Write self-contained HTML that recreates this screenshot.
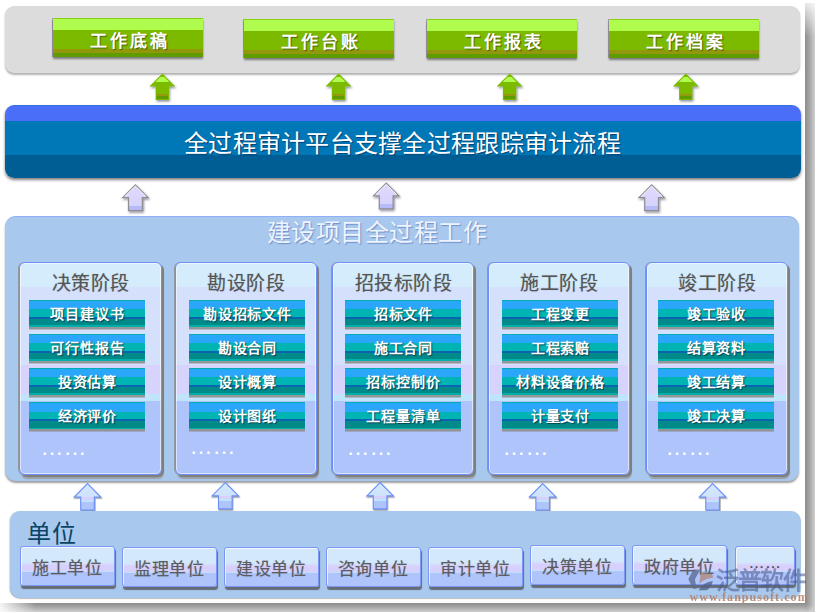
<!DOCTYPE html>
<html lang="zh-CN">
<head>
<meta charset="utf-8">
<title>全过程审计平台</title>
<style>
html,body{margin:0;padding:0;background:#fff;}
body{width:818px;height:613px;position:relative;overflow:hidden;font-family:"Liberation Sans",sans-serif;}
.abs{position:absolute;}
/* page shadows */
#shR{left:805px;top:3px;width:10px;height:600px;background:linear-gradient(90deg,#8c8c8c 0%,#a6a6a6 45%,#cfcfcf 100%);}
#shRfade{left:805px;top:3px;width:10px;height:34px;background:linear-gradient(180deg,rgba(255,255,255,.8) 0%,rgba(255,255,255,0) 100%);}
#shB{left:0;top:603px;width:805px;height:9px;background:linear-gradient(180deg,#8c8c8c 0%,#a6a6a6 45%,#cfcfcf 100%);}
#shBfade{left:0;top:603px;width:36px;height:9px;background:linear-gradient(90deg,rgba(255,255,255,.9) 0%,rgba(255,255,255,0) 100%);}
#shC{left:805px;top:603px;width:10px;height:9px;background:radial-gradient(circle 10px at 0 0,#8c8c8c 0%,#a6a6a6 45%,#cfcfcf 100%);}
/* top gray panel */
#top{left:5px;top:6px;width:795px;height:67px;background:#dcdcdc;border-radius:9px;box-shadow:0 2px 2px rgba(0,0,0,.3);}
.gbtn{height:39px;width:150px;background:linear-gradient(180deg,#8ad014 0,#8ad014 1px,#b0fc4e 1px,#b0fc4e 12px,#7cba00 12px,#7cba00 31px,#92980c 31px,#92980c 35px,#5e9c00 35px,#5e9c00 39px);box-shadow:0 2px 2px rgba(0,0,0,.45),-1px 0 0 rgba(120,100,140,.5);color:#fff;font-weight:bold;font-size:17px;line-height:47px;text-indent:3px;text-align:center;white-space:nowrap;overflow:hidden;text-shadow:1px 1px 1px rgba(60,70,0,.8);letter-spacing:3px;}
/* blue bar */
#bar{left:5px;top:105px;width:796px;height:73px;border-radius:9px;background:linear-gradient(180deg,#1c78d0 0,#4a6ef8 1px,#4a6ef8 16px,#0078b8 16px,#0078b8 50px,#005e94 50px,#005e94 73px);box-shadow:0 2px 3px rgba(0,0,0,.5);color:#fff;font-size:24px;text-align:center;line-height:77px;text-indent:-1px;letter-spacing:.27px;white-space:nowrap;overflow:hidden;text-shadow:1px 1px 1px rgba(0,30,70,.6);}
/* mid panel */
#mid{left:5px;top:216px;width:794px;height:265px;border-radius:11px;background:#a8c8ee;border-top:1px solid #8fb0f6;box-sizing:border-box;box-shadow:0 2px 2px rgba(0,0,0,.38);}
#midt{left:4px;top:216px;width:746px;height:35px;line-height:34px;letter-spacing:.55px;text-align:center;font-size:24px;color:#eef4ff;white-space:nowrap;text-shadow:1px 1px 1px rgba(90,120,180,.7);}
.card{top:262px;height:213px;width:142px;box-sizing:border-box;border:1px solid #6f8ff8;border-radius:6px;background:linear-gradient(180deg,#d4ecfc 0,#d4ecfc 24px,#d4e0fc 24px,#d4e0fc 102px,#d6d4fc 102px,#d6d4fc 131px,#c0e4fc 131px,#c0e4fc 138px,#b0c4fc 138px,#b0c4fc 100%);box-shadow:inset 0 0 0 1px rgba(255,255,255,.55),2px 2px 0 rgba(125,125,125,.95),2px 4px 1px rgba(150,150,150,.8),-1px 0 0 rgba(140,140,140,.8);}
.ct{left:0;top:9px;width:100%;text-align:center;font-size:19px;line-height:24px;letter-spacing:.5px;text-indent:.5px;color:#555;white-space:nowrap;text-shadow:0 0 1px rgba(80,80,80,.45);}
.tb{width:116px;height:28px;background:linear-gradient(180deg,#00b0b0 0,#00b0b0 .6px,#2aa6fa .6px,#2aa6fa 9.5px,#00b4b4 9.5px,#00b4b4 17px,#0a64b0 17px,#0a64b0 19px,#008a8a 19px,#008a8a 25.5px,#00b0a8 25.5px,#00b0a8 27.3px,#999 27.3px,#999 28px);box-shadow:0 1.5px 0 rgba(140,140,140,.9);color:#fff;font-weight:bold;font-size:14px;line-height:28px;letter-spacing:.8px;text-indent:.8px;text-align:center;white-space:nowrap;overflow:hidden;text-shadow:1px 1px 1px rgba(0,50,60,.8);}
.dots{color:#fff;font-size:23px;line-height:20px;letter-spacing:0;white-space:nowrap;}
/* bottom panel */
#bot{left:10px;top:511px;width:791px;height:87px;border-radius:10px;background:#a8c8ee;box-shadow:0 1px 1px rgba(0,0,0,.25),-1px 0 1px rgba(0,0,0,.12);}
#bott{left:27px;top:520px;font-size:24px;line-height:28px;letter-spacing:1px;color:#0b4464;white-space:nowrap;}
.ub{height:40px;width:95px;box-sizing:border-box;border:1px solid #7a96f6;border-radius:3px;background:linear-gradient(180deg,#d4e8fc 0,#d4e8fc 15px,#d8d0fc 18.5px,#d8d0fc 23.5px,#c0e0fc 24px,#c0e0fc 25px,#b0c4fc 25.5px,#b0c4fc 100%);box-shadow:inset 1px 1px 0 rgba(255,255,255,.7),1px 3px 1px rgba(85,85,88,.8);color:#5a5e64;font-size:17px;line-height:43px;letter-spacing:.6px;text-align:center;white-space:nowrap;overflow:hidden;text-shadow:0 0 1px rgba(60,60,60,.4);}
#wm{left:688px;top:568px;width:130px;height:40px;opacity:.78;}
#wmt{left:715.5px;top:566px;font-family:"Liberation Sans",sans-serif;font-size:24px;letter-spacing:-1.6px;line-height:30px;color:#4a5a8c;opacity:.56;white-space:nowrap;font-weight:bold;}
#wmu{left:689.5px;top:589px;font-family:"Liberation Serif",serif;font-weight:bold;font-size:12px;line-height:16px;letter-spacing:1.05px;color:#b08472;opacity:.9;white-space:nowrap;}
</style>
</head>
<body>
<div class="abs" id="shR"></div><div class="abs" id="shRfade"></div>
<div class="abs" id="shB"></div><div class="abs" id="shBfade"></div><div class="abs" id="shC"></div>

<div class="abs" id="top"></div>
<div class="abs gbtn" style="left:53px;top:18px">工作底稿</div>
<div class="abs gbtn" style="left:244px;top:19px">工作台账</div>
<div class="abs gbtn" style="left:427px;top:19px">工作报表</div>
<div class="abs gbtn" style="left:609px;top:19px">工作档案</div>

<svg class="abs" style="left:0;top:0" width="818" height="613" viewBox="0 0 818 613">
<defs>
<linearGradient id="gg" x1="0" y1="0" x2="0" y2="1"><stop offset="0" stop-color="#7cba00"/><stop offset=".079" stop-color="#7cba00"/><stop offset=".079" stop-color="#b0fc4e"/><stop offset=".275" stop-color="#b0fc4e"/><stop offset=".275" stop-color="#7cba00"/><stop offset=".795" stop-color="#7cba00"/><stop offset=".795" stop-color="#96980c"/><stop offset=".883" stop-color="#96980c"/><stop offset=".883" stop-color="#5e9c00"/><stop offset=".983" stop-color="#5e9c00"/><stop offset=".983" stop-color="#7cba00"/><stop offset="1" stop-color="#7cba00"/></linearGradient>
<linearGradient id="lg" x1="0" y1="0" x2="0" y2="1"><stop offset="0" stop-color="#e0d8fe"/><stop offset=".6" stop-color="#dad4fc"/><stop offset=".82" stop-color="#d4d4fc"/><stop offset=".82" stop-color="#b6baf8"/><stop offset="1" stop-color="#b6baf8"/></linearGradient>
<filter id="ds" x="-20%" y="-20%" width="150%" height="150%"><feDropShadow dx="1" dy="1.5" stdDeviation=".8" flood-color="#101030" flood-opacity=".45"/></filter>
<g id="arw"><path d="M0 0 L13.05 12.8 L6.7 12.8 L6.7 26.4 L-6.7 26.4 L-6.7 12.8 L-13.05 12.8 Z" fill="#7cba00"/><path d="M0 1.41 L10.4 11.8 L5.7 11.8 L5.7 25.4 L-5.7 25.4 L-5.7 11.8 L-10.4 11.8 Z" fill="url(#gg)"/></g>
<g id="larw"><path d="M0 .3 L12.7 13 L6.9 13 L6.9 26 L-6.9 26 L-6.9 13 L-12.7 13 Z" fill="url(#lg)" stroke="#8e8e90" stroke-width="1.2" stroke-linejoin="miter"/><path d="M-10.5 11.8 L0 1.6 L10.5 11.8" fill="none" stroke="#fff" stroke-width="1" stroke-opacity=".75"/></g>
</defs>
<g filter="url(#ds)">
<use href="#arw" x="162.35" y="73.6"/><use href="#arw" x="338.5" y="73.6"/><use href="#arw" x="509.6" y="73.6"/><use href="#arw" x="685.8" y="73.6"/>
</g>
<g filter="url(#ds)">
<use href="#larw" x="135.4" y="184.6"/><use href="#larw" x="386.2" y="182.8"/><use href="#larw" x="651.6" y="184.6"/>
</g>
</svg>

<div class="abs" id="bar">全过程审计平台支撑全过程跟踪审计流程</div>

<div class="abs" id="mid"></div>
<div class="abs" id="midt">建设项目全过程工作</div>

<div class="abs card" style="left:19px;width:143px"><div class="abs ct">决策阶段</div></div>
<div class="abs card" style="left:175px"><div class="abs ct">勘设阶段</div></div>
<div class="abs card" style="left:332px"><div class="abs ct">招投标阶段</div></div>
<div class="abs card" style="left:488px"><div class="abs ct">施工阶段</div></div>
<div class="abs card" style="left:646px"><div class="abs ct">竣工阶段</div></div>

<div class="abs tb" style="left:29px;top:300px">项目建议书</div>
<div class="abs tb" style="left:29px;top:334px">可行性报告</div>
<div class="abs tb" style="left:29px;top:368px">投资估算</div>
<div class="abs tb" style="left:29px;top:402px">经济评价</div>
<div class="abs dots" style="left:40.5px;top:437px">……</div>

<div class="abs tb" style="left:189px;top:300px">勘设招标文件</div>
<div class="abs tb" style="left:189px;top:334px">勘设合同</div>
<div class="abs tb" style="left:189px;top:368px">设计概算</div>
<div class="abs tb" style="left:189px;top:402px">设计图纸</div>
<div class="abs dots" style="left:189.5px;top:436px">……</div>

<div class="abs tb" style="left:345px;top:300px">招标文件</div>
<div class="abs tb" style="left:345px;top:334px">施工合同</div>
<div class="abs tb" style="left:345px;top:368px">招标控制价</div>
<div class="abs tb" style="left:345px;top:402px">工程量清单</div>
<div class="abs dots" style="left:346.5px;top:437px">……</div>

<div class="abs tb" style="left:502px;top:300px">工程变更</div>
<div class="abs tb" style="left:502px;top:334px">工程索赔</div>
<div class="abs tb" style="left:502px;top:368px">材料设备价格</div>
<div class="abs tb" style="left:502px;top:402px">计量支付</div>
<div class="abs dots" style="left:502.5px;top:437px">……</div>

<div class="abs tb" style="left:658px;top:300px">竣工验收</div>
<div class="abs tb" style="left:658px;top:334px">结算资料</div>
<div class="abs tb" style="left:658px;top:368px">竣工结算</div>
<div class="abs tb" style="left:658px;top:402px">竣工决算</div>
<div class="abs dots" style="left:665.5px;top:437px">……</div>

<svg class="abs" style="left:0;top:0" width="818" height="613" viewBox="0 0 818 613">
<defs>
<linearGradient id="bg2" x1="0" y1="0" x2="0" y2="1"><stop offset="0" stop-color="#d4e8fe"/><stop offset=".5" stop-color="#cfe2fc"/><stop offset=".52" stop-color="#d8d0fc"/><stop offset=".62" stop-color="#d6d2fc"/><stop offset=".64" stop-color="#c0e4fc"/><stop offset=".69" stop-color="#c0e4fc"/><stop offset=".7" stop-color="#b0c4fc"/><stop offset="1" stop-color="#b0c4fc"/></linearGradient>
<filter id="ds2" x="-20%" y="-20%" width="150%" height="150%"><feDropShadow dx=".6" dy="1.2" stdDeviation=".7" flood-color="#202020" flood-opacity=".5"/></filter>
<path id="barw" d="M0 0 L13.3 13.4 L6.8 13.4 L6.8 26.4 L-6.8 26.4 L-6.8 13.4 L-13.3 13.4 Z" fill="url(#bg2)" stroke="#6a90f8" stroke-width="1.1"/>
</defs>
<g filter="url(#ds2)">
<use href="#barw" x="87.5" y="483.6"/><use href="#barw" x="225.3" y="482.5"/><use href="#barw" x="380.1" y="482.5"/><use href="#barw" x="542.7" y="483.6"/><use href="#barw" x="712.6" y="483.6"/>
</g>
</svg>

<div class="abs" id="bot"></div>
<div class="abs" id="bott">单位</div>
<div class="abs ub" style="left:20px;top:546px">施工单位</div>
<div class="abs ub" style="left:122px;top:547px">监理单位</div>
<div class="abs ub" style="left:224px;top:547px">建设单位</div>
<div class="abs ub" style="left:325.5px;top:547px">咨询单位</div>
<div class="abs ub" style="left:428px;top:547px">审计单位</div>
<div class="abs ub" style="left:530px;top:545px">决策单位</div>
<div class="abs ub" style="left:632px;top:545px">政府单位</div>
<div class="abs ub" style="left:735px;top:546px;width:60px;height:39px;color:#4c4c50;line-height:32px;font-size:16px">……</div>
<svg class="abs" id="wm" viewBox="688 568 130 40">
<path d="M693.4 569.4 L700.4 569.4 L694.9 579.3 L696.7 588.8 L693 588.8 L688.3 579.3 Z" fill="#5a6c92"/>
<path d="M700.7 573 L711.4 574.1 Q713.3 576 712.9 577.8 Q704 578.5 699.3 584 Z" fill="#b08a7a"/>
<path d="M698.5 590.3 Q703.3 582.2 712.9 581.1 Q710.7 589.2 706.3 590.3 Z" fill="#52648a"/>
</svg>
<div class="abs" id="wmt">泛普软件</div>
<div class="abs" id="wmu">www.fanpusoft.com</div>

</body>
</html>
